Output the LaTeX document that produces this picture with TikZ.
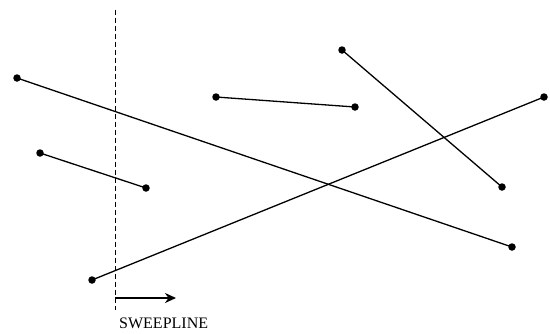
\documentclass[tikz,border=0pt]{standalone}
\usepackage{fontspec}
\setmainfont{Liberation Serif}
\usetikzlibrary{arrows.meta}
\begin{document}
\begin{tikzpicture}[x=1pt,y=-1pt,
  seg/.style={line width=1.3pt},
  pt/.style={circle,fill=black,inner sep=0pt,minimum size=7.5pt}]
\useasboundingbox (0,0) rectangle (550,333);
\node[pt] (A) at (17,78) {};
\node[pt] (B) at (512,247) {};
\node[pt] (C) at (40,153) {};
\node[pt] (D) at (146,188) {};
\node[pt] (E) at (216,97) {};
\node[pt] (F) at (355,107) {};
\node[pt] (G) at (342,50) {};
\node[pt] (H) at (502,187) {};
\node[pt] (I) at (92,280) {};
\node[pt] (J) at (544,97) {};
\draw[seg] (A.center) -- (B.center);
\draw[seg] (C.center) -- (D.center);
\draw[seg] (E.center) -- (F.center);
\draw[seg] (G.center) -- (H.center);
\draw[seg] (I.center) -- (J.center);
\coordinate (st) at (115,10);
\coordinate (sb) at (115,310);
\draw[line width=1pt,dash pattern=on 5pt off 3pt] (st) -- (sb);
\coordinate (a1) at (115,298);
\coordinate (a2) at (176,298);
\draw[line width=2.8pt,-{Stealth[length=11pt,width=10pt]}] (a1) -- (a2);
\node[anchor=base west,inner sep=0pt,font=\fontsize{16}{19}\selectfont] (lbl) at (119,328) {SWEEPLINE};
\end{tikzpicture}
\end{document}
